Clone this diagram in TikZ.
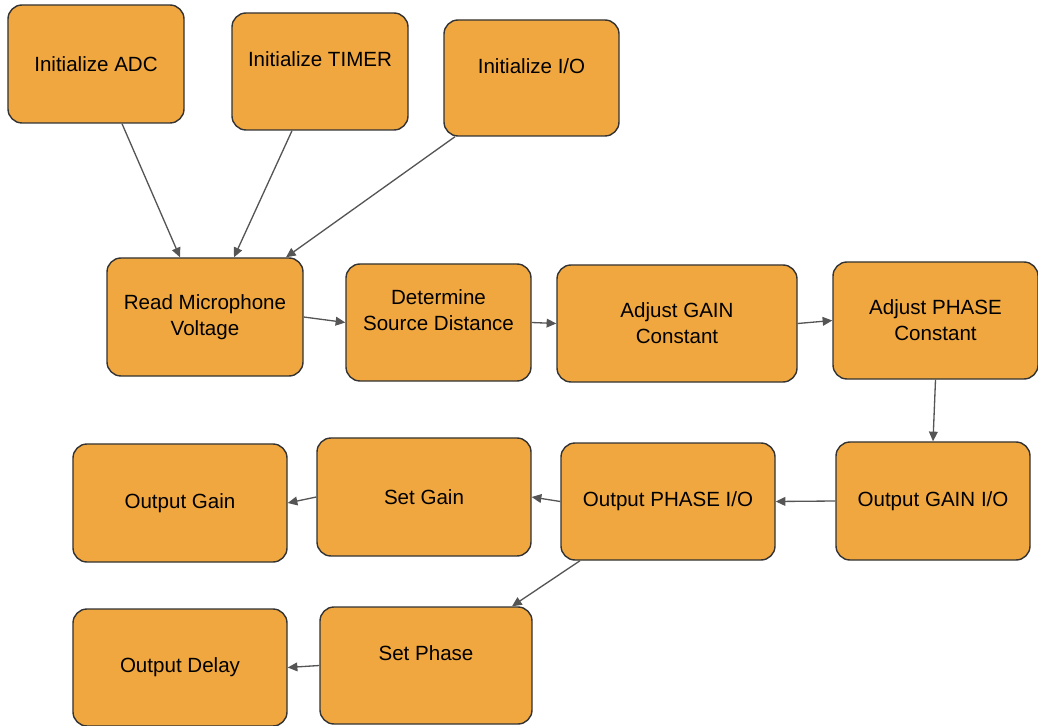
\documentclass[tikz,border=0pt]{standalone}
\usepackage{fontspec}
\setmainfont{Liberation Sans}
\usepackage{xcolor}
\usepackage{tikz}
\usetikzlibrary{arrows, arrows.meta}
\definecolor{boxfill}{HTML}{F0A73F}
\definecolor{boxline}{HTML}{333333}
\definecolor{arrowgray}{HTML}{555555}
\tikzset{
  stepbox/.style={rectangle, rounded corners=8pt, draw=boxline, fill=boxfill, line width=0.8pt,
    align=center, inner sep=2pt, font=\fontsize{11.7}{14.7}\selectfont},
  flow/.style={draw=arrowgray, line width=0.75pt, -{Triangle[length=5.5pt, width=5pt]}},
  textup/.style={text depth=14pt}
}

\begin{document}
\begin{tikzpicture}[x=.2mm, y=-.2mm]
\useasboundingbox (0,0) rectangle (1038,726);

% initialisation
\node[stepbox, minimum width=3.52cm, minimum height=2.36cm] (adc) at (96,64) {Initialize ADC};
\node[stepbox, textup, minimum width=3.52cm, minimum height=2.34cm] (timer) at (320,71.5) {Initialize TIMER};
\node[stepbox, textup, minimum width=3.5cm, minimum height=2.32cm] (io) at (531.5,78) {Initialize I/O};

% main row
\node[stepbox, minimum width=3.92cm, minimum height=2.36cm] (read) at (205,317) {Read Microphone\\Voltage};
\node[stepbox, textup, minimum width=3.7cm, minimum height=2.34cm] (dist) at (438.5,322.5) {Determine\\Source Distance};
\node[stepbox, minimum width=4.8cm, minimum height=2.34cm] (gain) at (677,323.5) {Adjust GAIN\\Constant};
\node[stepbox, minimum width=4.1cm, minimum height=2.34cm] (phase) at (935.5,320.5) {Adjust PHASE\\Constant};

% outputs
\node[stepbox, minimum width=3.88cm, minimum height=2.36cm] (gainio) at (933,501) {Output GAIN I/O};
\node[stepbox, minimum width=4.28cm, minimum height=2.34cm] (phaseio) at (668,501.5) {Output PHASE I/O};
\node[stepbox, minimum width=4.28cm, minimum height=2.36cm] (setgain) at (424,497) {Set Gain};
\node[stepbox, minimum width=4.28cm, minimum height=2.36cm] (outgain) at (180,503) {Output Gain};
\node[stepbox, textup, minimum width=4.24cm, minimum height=2.34cm] (setphase) at (426,665.5) {Set Phase};
\node[stepbox, minimum width=4.28cm, minimum height=2.34cm] (outdelay) at (180,667.5) {Output Delay};

\draw[flow] ([xshift=0.52cm]adc.south) -- ([xshift=-0.5cm]read.north);
\draw[flow] ([xshift=-0.56cm]timer.south) -- ([xshift=0.58cm]read.north);
\draw[flow] ([xshift=-1.53cm]io.south) -- ([xshift=1.62cm]read.north);
\draw[flow] (read.east) -- (dist.west);
\draw[flow] (dist.east) -- (gain.west);
\draw[flow] (gain.east) -- (phase.west);
\draw[flow] (phase.south) -- (gainio.north);
\draw[flow] (gainio.west) -- (phaseio.east);
\draw[flow] (phaseio.west) -- (setgain.east);
\draw[flow] (setgain.west) -- (outgain.east);
\draw[flow] ([xshift=-1.76cm]phaseio.south) -- ([xshift=1.72cm]setphase.north);
\draw[flow] (setphase.west) -- (outdelay.east);

\end{tikzpicture}
\end{document}
